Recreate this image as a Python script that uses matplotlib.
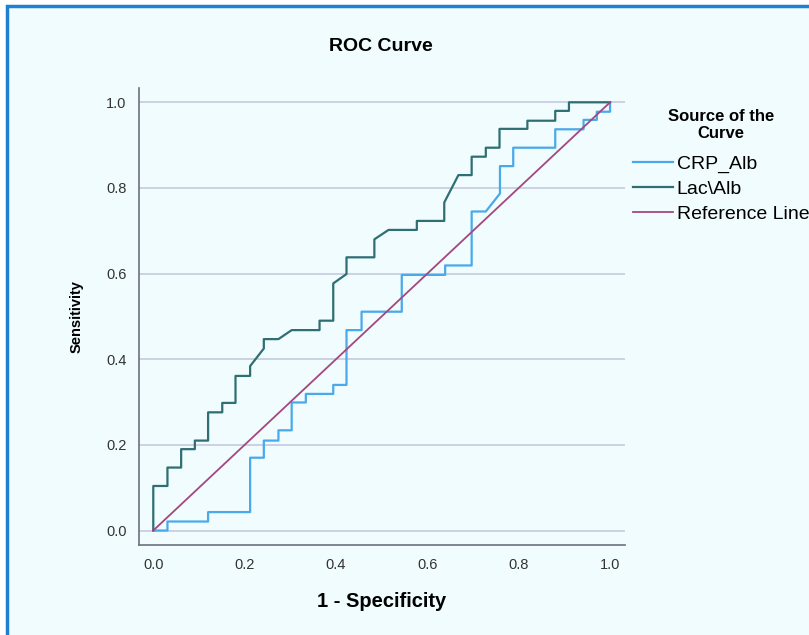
import matplotlib
matplotlib.use("Agg")
import matplotlib.pyplot as plt
from matplotlib.patches import Rectangle

# ── Data ──────────────────────────────────────────────────────────────────────

crp_x = [0.0, 0.031, 0.031, 0.12, 0.12, 0.212, 0.212, 0.242, 0.242, 0.274,
         0.274, 0.303, 0.303, 0.334, 0.334, 0.394, 0.394, 0.423, 0.423, 0.456,
         0.456, 0.544, 0.544, 0.639, 0.639, 0.697, 0.697, 0.728, 0.759, 0.759,
         0.788, 0.788, 0.88, 0.88, 0.942, 0.942, 0.971, 0.971, 1.0, 1.0]
crp_y = [0.0, 0.0, 0.021, 0.021, 0.043, 0.043, 0.17, 0.17, 0.21, 0.21,
         0.234, 0.234, 0.299, 0.299, 0.319, 0.319, 0.34, 0.34, 0.468, 0.468,
         0.511, 0.511, 0.597, 0.597, 0.619, 0.619, 0.745, 0.745, 0.787, 0.851,
         0.851, 0.894, 0.894, 0.937, 0.937, 0.959, 0.959, 0.978, 0.978, 1.0]

lac_x = [0.0, 0.0, 0.031, 0.031, 0.061, 0.061, 0.091, 0.091, 0.12, 0.12,
         0.151, 0.151, 0.18, 0.18, 0.212, 0.212, 0.242, 0.242, 0.274, 0.303,
         0.364, 0.364, 0.394, 0.394, 0.423, 0.423, 0.484, 0.484, 0.515, 0.577,
         0.577, 0.637, 0.637, 0.668, 0.697, 0.697, 0.728, 0.728, 0.758, 0.758,
         0.819, 0.819, 0.88, 0.88, 0.91, 0.91, 1.0]
lac_y = [0.0, 0.104, 0.104, 0.147, 0.147, 0.19, 0.19, 0.21, 0.21, 0.276,
         0.276, 0.298, 0.298, 0.361, 0.361, 0.384, 0.425, 0.447, 0.447, 0.468,
         0.468, 0.49, 0.49, 0.577, 0.599, 0.638, 0.638, 0.68, 0.702, 0.702,
         0.723, 0.723, 0.766, 0.83, 0.83, 0.873, 0.873, 0.894, 0.894, 0.938,
         0.938, 0.957, 0.957, 0.98, 0.98, 1.0, 1.0]

ref_x = [0.0, 1.0]
ref_y = [0.0, 1.0]

ticks = [0.0, 0.2, 0.4, 0.6, 0.8, 1.0]
labels = ["CRP_Alb", "Lac\\Alb", "Reference Line"]

# ── Style ─────────────────────────────────────────────────────────────────────

BG = "#f0fcfd"
C_CRP = "#4aa9ea"
C_LAC = "#2f6f74"
C_REF = "#a4477f"
GRID = "#c9cde2"
AXIS = "#6e7080"
SANS = ["Liberation Sans", "DejaVu Sans"]

fig = plt.figure(figsize=(8.09, 6.35), dpi=100, facecolor="white")
fig.patches.append(Rectangle((0.0087, -0.05), 1.2, 0.9906 + 0.05,
                             transform=fig.transFigure, facecolor=BG,
                             edgecolor="#1f80d2", linewidth=2.5, zorder=-5))

ax = fig.add_axes([0.1718, 0.1417, 0.6008, 0.7197])
ax.set_facecolor(BG)
ax.set_xlim(-0.0313, 1.0328)
ax.set_ylim(-0.0339, 1.0334)

for t in ticks:
    ax.axhline(t, color=GRID, lw=1.3, zorder=1)

ax.plot(crp_x, crp_y, color=C_CRP, lw=1.6, label=labels[0], zorder=3)
ax.plot(lac_x, lac_y, color=C_LAC, lw=1.6, label=labels[1], zorder=4)
ax.plot(ref_x, ref_y, color=C_REF, lw=1.3, label=labels[2], zorder=5)

for s in ["top", "right"]:
    ax.spines[s].set_visible(False)
for s in ["left", "bottom"]:
    ax.spines[s].set_color(AXIS)
    ax.spines[s].set_linewidth(1.2)

ax.set_xticks(ticks)
ax.set_yticks(ticks)
ax.set_xticklabels([f"{t:.1f}" for t in ticks], family=SANS, fontsize=10.5,
                   color="#333333")
ax.set_yticklabels([f"{t:.1f}" for t in ticks], family=SANS, fontsize=10.5,
                   color="#333333")
ax.tick_params(length=0, pad=9)

ax.set_xlabel("1 - Specificity", family=SANS, fontsize=14.5,
              fontweight="bold", labelpad=15)
ax.set_ylabel("Sensitivity", family=SANS, fontsize=10.5,
              fontweight="bold", labelpad=16)
fig.text(0.471, 0.926, "ROC Curve", family=SANS, fontsize=14,
         fontweight="bold", ha="center", va="center")

leg = ax.legend(loc="upper left", bbox_to_anchor=(0.7824, 0.829),
                bbox_transform=fig.transFigure, frameon=False,
                title="Source of the\nCurve", handlelength=2.05,
                handletextpad=0.2, labelspacing=0.38, borderpad=0,
                borderaxespad=0, alignment="center",
                prop={"family": SANS, "size": 14})
leg.get_title().set_fontweight("bold")
leg.get_title().set_fontfamily(SANS)
leg.get_title().set_fontsize(12)
leg.get_title().set_multialignment("center")
leg._legend_box.sep = 10

fig.savefig("out.png", dpi=100, facecolor=fig.get_facecolor())
